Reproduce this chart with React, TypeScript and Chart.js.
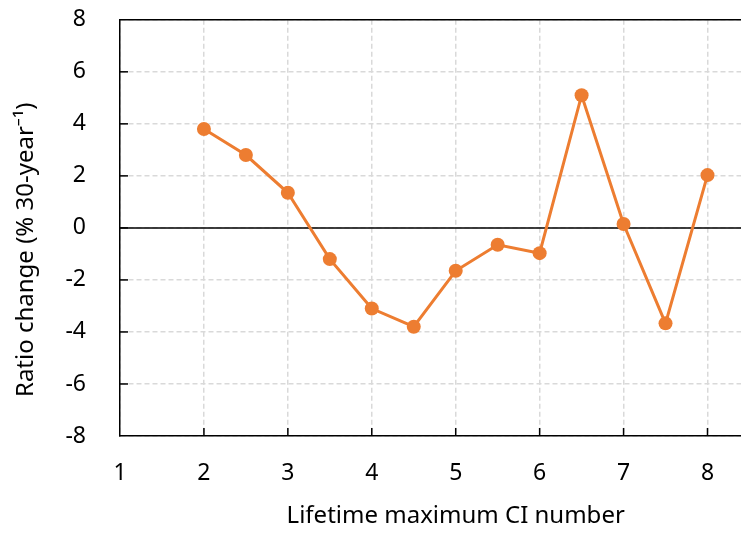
import React, { useEffect, useRef } from "react";
import { Chart, registerables } from "chart.js";

Chart.register(...registerables);

const xValues = [2, 2.5, 3, 3.5, 4, 4.5, 5, 5.5, 6, 6.5, 7, 7.5, 8];
const ratioChange = [3.8, 2.8, 1.35, -1.2, -3.1, -3.8, -1.65, -0.65, -0.97, 5.1, 0.15, -3.67, 2.03];
const xMin = 1;
const xMax = 9;
const yMin = -8;
const yMax = 8;
const xTitle = "Lifetime maximum CI number";
const yTitle = "Ratio change (% 30-year\u207B\u00B9)       ";

const FONT = "'Noto Sans', sans-serif";

const framePlugin = {
  id: "frame",
  beforeDatasetsDraw(chart: any) {
    const { ctx, chartArea, scales } = chart;
    const x = scales.x;
    const y = scales.y;
    ctx.save();
    ctx.strokeStyle = "#000";
    ctx.lineWidth = 1.5;
    ctx.beginPath();
    ctx.moveTo(chartArea.left, chartArea.top);
    ctx.lineTo(chartArea.right, chartArea.top);
    ctx.stroke();
    const y0 = y.getPixelForValue(0);
    ctx.beginPath();
    ctx.moveTo(chartArea.left, y0);
    ctx.lineTo(chartArea.right, y0);
    ctx.stroke();
    y.ticks.forEach((t: any) => {
      if (t.value <= yMin || t.value >= yMax) return;
      const py = y.getPixelForValue(t.value);
      ctx.beginPath();
      ctx.moveTo(chartArea.left, py);
      ctx.lineTo(chartArea.left + 8, py);
      ctx.stroke();
    });
    x.ticks.forEach((t: any) => {
      if (t.value <= xMin) return;
      const px = x.getPixelForValue(t.value);
      ctx.beginPath();
      ctx.moveTo(px, chartArea.bottom);
      ctx.lineTo(px, chartArea.bottom - 8);
      ctx.stroke();
    });
    ctx.restore();
  },
};

export default function App() {
  const canvasRef = useRef<HTMLCanvasElement | null>(null);

  useEffect(() => {
    if (!canvasRef.current) return;
    const chart = new Chart(canvasRef.current, {
      type: "line",
      data: {
        datasets: [
          {
            data: xValues.map((x, i) => ({ x, y: ratioChange[i] })),
            borderColor: "#ED7D31",
            backgroundColor: "#ED7D31",
            borderWidth: 3,
            pointRadius: 7,
            pointHoverRadius: 7,
            pointBorderWidth: 0,
            pointBackgroundColor: "#ED7D31",
            tension: 0,
          },
        ],
      },
      options: {
        animation: false,
        responsive: true,
        maintainAspectRatio: false,
        layout: { padding: { left: 0, right: 0, top: 0, bottom: 0 } },
        plugins: {
          legend: { display: false },
          tooltip: { enabled: false },
        },
        scales: {
          x: {
            type: "linear",
            min: xMin,
            max: xMax,
            afterFit(scale: any) {
              scale.height = 98;
            },
            ticks: {
              stepSize: 1,
              padding: 24,
              color: "#000",
              font: { family: FONT, size: 23 },
            },
            grid: {
              color: "#D9D9D9",
              lineWidth: 1.5,
              drawTicks: false,
              borderDash: [5, 3],
            } as any,
            border: { display: true, color: "#000", width: 1.5, dash: [5, 3] } as any,
            title: {
              display: true,
              text: xTitle,
              color: "#000",
              font: { family: FONT, size: 24 },
              padding: { top: 0, bottom: 3 },
            },
          },
          y: {
            type: "linear",
            min: yMin,
            max: yMax,
            afterFit(scale: any) {
              scale.width = 120;
            },
            ticks: {
              stepSize: 2,
              padding: 34,
              color: "#000",
              font: { family: FONT, size: 23 },
            },
            grid: {
              color: "#D9D9D9",
              lineWidth: 1.5,
              drawTicks: false,
              borderDash: [5, 3],
            } as any,
            border: { display: true, color: "#000", width: 1.5, dash: [5, 3] } as any,
            title: {
              display: true,
              text: yTitle,
              color: "#000",
              font: { family: FONT, size: 24 },
              padding: { top: 12, bottom: 0 },
            },
          },
        },
      },
      plugins: [framePlugin],
    });
    return () => chart.destroy();
  }, []);

  return (
    <div
      style={{
        position: "absolute",
        left: 0,
        top: 0,
        width: 741,
        height: 534,
        overflow: "hidden",
        background: "#fff",
      }}
    >
      <div style={{ position: "relative", width: 822, height: 562, marginTop: -28 }}>
        <canvas ref={canvasRef} />
      </div>
    </div>
  );
}
